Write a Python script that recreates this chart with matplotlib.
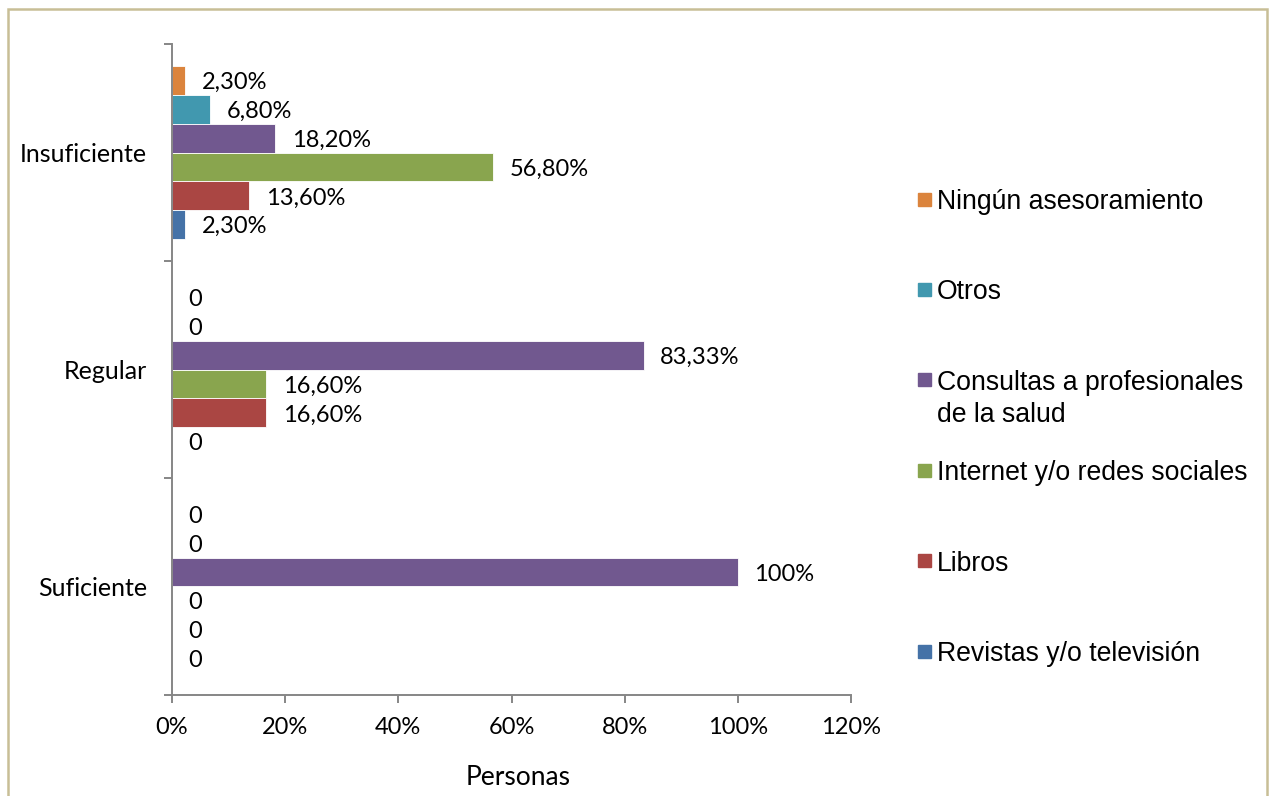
import numpy as np
import matplotlib.pyplot as plt
from matplotlib.patches import Rectangle

# Datos (porcentajes por nivel de información)
categorias = ["Insuficiente", "Regular", "Suficiente"]

nombres = [
    "Ningún asesoramiento",
    "Otros",
    "Consultas a profesionales\nde la salud",
    "Internet y/o redes sociales",
    "Libros",
    "Revistas y/o televisión",
]
ningun = [2.3, 0, 0]
otros = [6.8, 0, 0]
consultas = [18.2, 83.33, 100]
internet = [56.8, 16.6, 0]
libros = [13.6, 16.6, 0]
revistas = [2.3, 0, 0]
series = [ningun, otros, consultas, internet, libros, revistas]

colores = ["#DB843D", "#4198AF", "#71588F", "#89A54E", "#AA4643", "#4572A7"]
ticks_x = [0, 20, 40, 60, 80, 100, 120]

GRIS = "#868686"
W, H = 1272, 796


def etiqueta(v):
    if v == 0:
        return "0"
    if v == 100:
        return "100%"
    return f"{v:.2f}%".replace(".", ",")


fig = plt.figure(figsize=(W / 100, H / 100), dpi=100)
ax = fig.add_axes([172 / W, 1 - 695 / H, (851 - 172) / W, (695 - 44) / H])

y = np.arange(len(categorias))
h = 0.8 / len(series)
for i, (vals, color) in enumerate(zip(series, colores)):
    pos = y + (i - (len(series) - 1) / 2) * h
    ax.barh(pos, vals, height=h, color=color, edgecolor="white", linewidth=0.6)
    for yy, v in zip(pos, vals):
        ax.annotate(etiqueta(v), xy=(v, yy), xytext=(12, 0),
                    textcoords="offset points", ha="left",
                    va="center_baseline", fontsize=17, family="Lato")

ax.set_xlim(0, 120)
ax.set_ylim(2.5, -0.5)
ax.set_xticks(ticks_x, [f"{t}%" for t in ticks_x])
ax.set_yticks(y, categorias)
ax.set_yticks(np.arange(-0.5, len(categorias)), minor=True)

for s in ["top", "right"]:
    ax.spines[s].set_visible(False)
for s in ["left", "bottom"]:
    ax.spines[s].set_color(GRIS)
    ax.spines[s].set_linewidth(1.4)

ax.tick_params(axis="y", which="major", length=0, pad=18, labelsize=18)
ax.tick_params(axis="y", which="minor", length=6, width=1.4, color=GRIS)
ax.tick_params(axis="x", length=6, width=1.4, color=GRIS, pad=10, labelsize=17)
for lab in ax.get_xticklabels() + ax.get_yticklabels():
    lab.set_family("Lato")

ax.set_xlabel("Personas", family="Lato", fontsize=19, labelpad=19)
ax.xaxis.label.set_x(0.51)

# Leyenda dibujada a mano, una entrada cada 90 px
for k, (nombre, color) in enumerate(zip(nombres, colores)):
    yc = 199 + k * 90.4
    fig.add_artist(Rectangle((918 / W, 1 - (yc + 6.5) / H), 13 / W, 13 / H,
                             transform=fig.transFigure, color=color))
    for j, linea in enumerate(nombre.split("\n")):
        fig.text(937 / W, 1 - (yc + j * 32) / H, linea, ha="left",
                 va="center_baseline", fontsize=19.2, family="Liberation Sans")

# Marco exterior
fig.add_artist(Rectangle((8 / W, -0.05), (1267 - 8) / W, 1 - 9 / H + 0.05,
                         transform=fig.transFigure, fill=False,
                         edgecolor="#C8BE96", linewidth=1.8))

fig.savefig("out.png", dpi=100)
